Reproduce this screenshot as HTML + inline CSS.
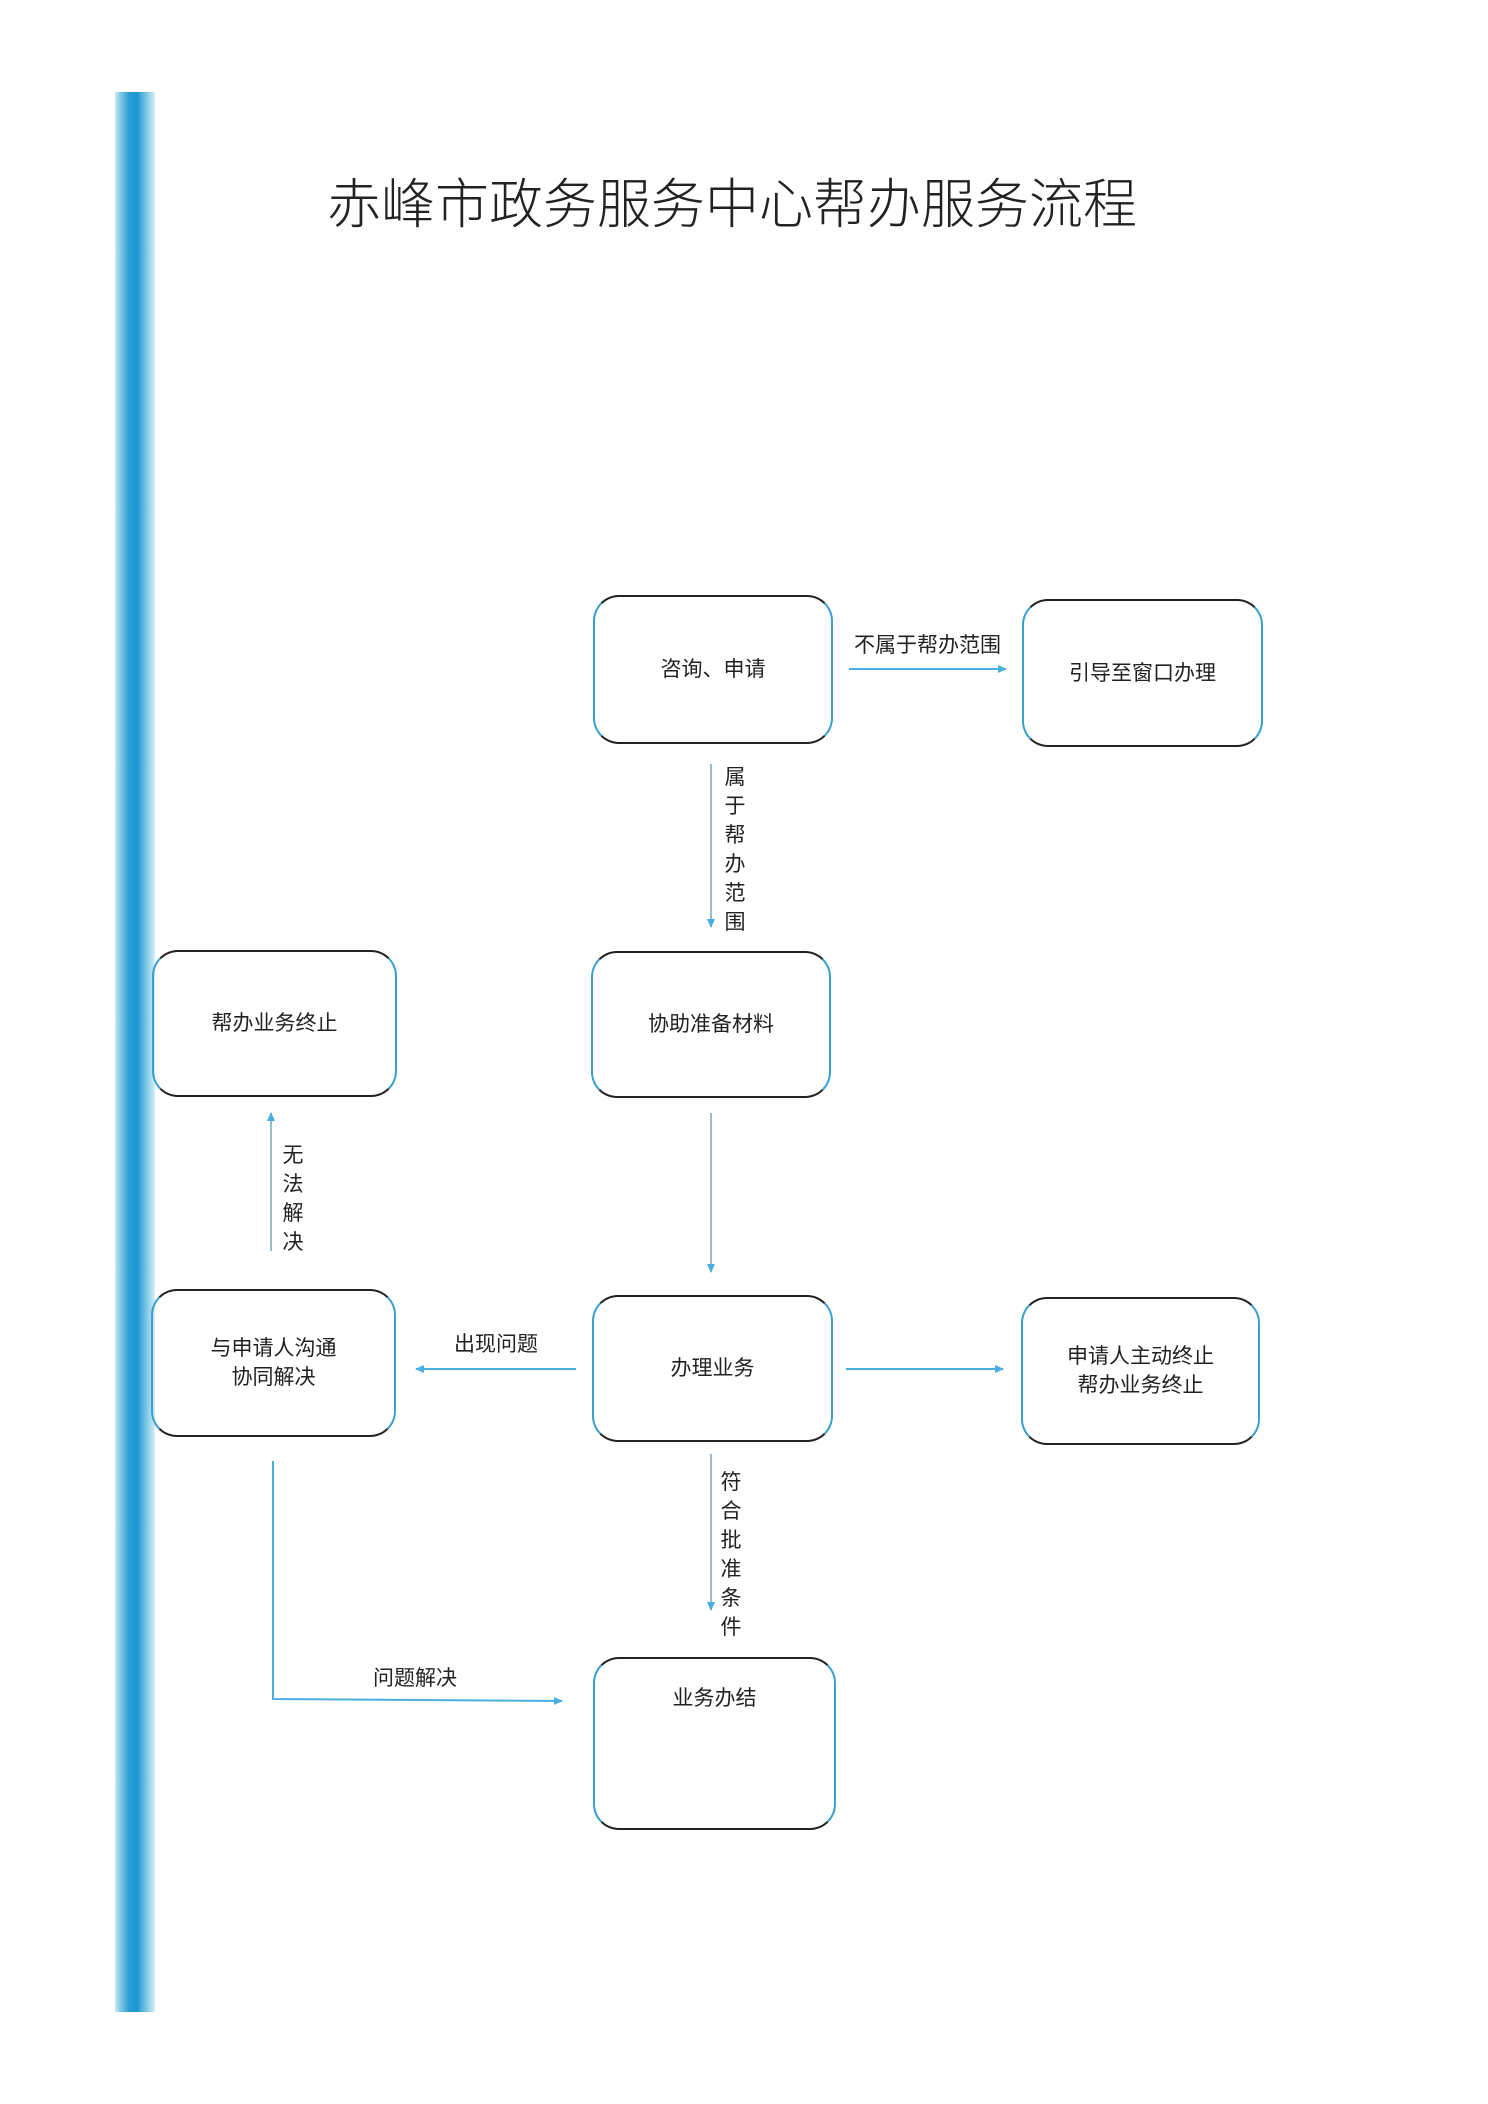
<!DOCTYPE html>
<html><head><meta charset="utf-8"><style>
html,body{margin:0;padding:0;background:#fff;}
body{width:1488px;height:2104px;position:relative;overflow:hidden;font-family:"Liberation Sans","Noto Sans CJK SC",sans-serif;}
.strip{position:absolute;left:115px;top:92px;width:40px;height:1920px;background:linear-gradient(90deg,#cfe9f3 0,#7cc6e4 15%,#2a9fd6 35%,#1b94d0 55%,#6cc0e2 75%,#d6eef6 100%);}
.title{position:absolute;left:327px;top:160px;width:830px;font-size:54px;color:#222;letter-spacing:0px;white-space:nowrap;font-family:"Noto Sans CJK SC",sans-serif;font-weight:300;}
.wrap{position:absolute;left:-6px;top:-7px;width:1488px;height:2104px;}
.box{position:absolute;box-sizing:border-box;border:2px solid;border-color:#222 #3a9fd0 #222 #3a9fd0;border-radius:26px;display:flex;align-items:center;justify-content:center;text-align:center;font-size:21px;color:#222;line-height:29px;}
.lbl{position:absolute;font-size:21px;color:#222;white-space:nowrap;line-height:29px;}
.v{width:22px;white-space:normal;text-align:center;}
</style></head><body>
<div class="strip"></div>
<div class="title">赤峰市政务服务中心帮办服务流程</div>
<div class="wrap">
<div class="box" style="left:599px;top:602px;width:240px;height:149px;">咨询、申请</div>
<div class="box" style="left:1028px;top:606px;width:241px;height:148px;">引导至窗口办理</div>
<div class="box" style="left:597px;top:958px;width:240px;height:147px;">协助准备材料</div>
<div class="box" style="left:158px;top:957px;width:245px;height:147px;">帮办业务终止</div>
<div class="box" style="left:157px;top:1296px;width:245px;height:148px;">与申请人沟通<br>协同解决</div>
<div class="box" style="left:598px;top:1302px;width:241px;height:147px;">办理业务</div>
<div class="box" style="left:1027px;top:1304px;width:239px;height:148px;">申请人主动终止<br>帮办业务终止</div>
<div class="box" style="left:599px;top:1664px;width:243px;height:173px;align-items:flex-start;padding-top:25px;">业务办结</div>

<svg width="1488" height="2104" style="position:absolute;left:0;top:0" xmlns="http://www.w3.org/2000/svg">
<defs><marker id="a" markerWidth="10" markerHeight="10" refX="8" refY="5" orient="auto" markerUnits="userSpaceOnUse"><path d="M0,1 L9,5 L0,9 Z" fill="#4aaee0"/></marker></defs>
<g stroke="#4aaee0" stroke-width="2" fill="none" marker-end="url(#a)">
<line x1="855" y1="676" x2="1012" y2="676"/>
<line x1="717" y1="771" x2="717" y2="934" stroke="#9bc"/>
<line x1="717" y1="1120" x2="717" y2="1279" stroke="#9bc"/>
<line x1="582" y1="1376" x2="422" y2="1376"/>
<line x1="852" y1="1376" x2="1009" y2="1376"/>
<line x1="277" y1="1258" x2="277" y2="1120" stroke="#9bc"/>
<line x1="717" y1="1461" x2="717" y2="1617" stroke="#9bc"/>
<polyline points="279,1468 279,1706 568,1708"/>
</g>
</svg>

<div class="lbl" style="left:860px;top:638px;">不属于帮办范围</div>
<div class="lbl v" style="left:730px;top:770px;">属于帮办范围</div>
<div class="lbl" style="left:460px;top:1337px;">出现问题</div>
<div class="lbl v" style="left:288px;top:1148px;">无法解决</div>
<div class="lbl v" style="left:726px;top:1475px;">符合批准条件</div>
<div class="lbl" style="left:379px;top:1671px;">问题解决</div>
</div>
</body></html>
